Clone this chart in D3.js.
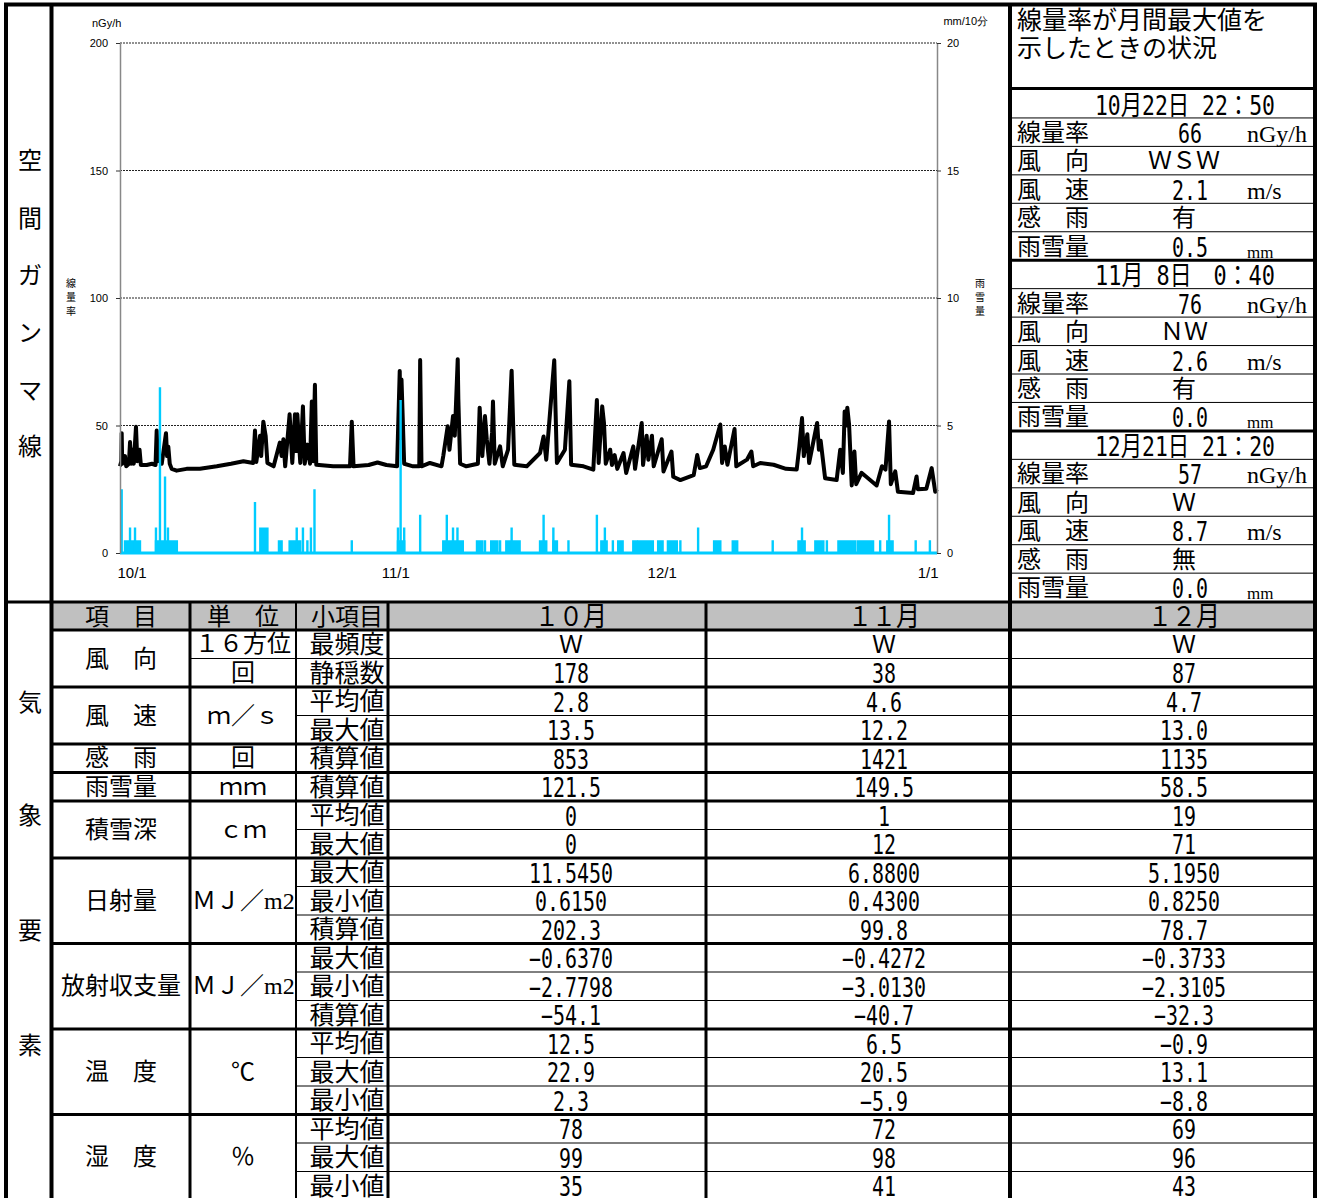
<!DOCTYPE html>
<html>
<head>
<meta charset="utf-8">
<script src="https://cdn.jsdelivr.net/npm/d3@7"></script>
<style>
body { margin: 0; background: #fff; }
</style>
</head>
<body>
<div id="chart"></div>
<script>
// dose rate nGy/h : [days since 10/1, value]
var doseRate = [
  [0,34],[0.15,36],[0.19,47],[0.25,35],[0.56,38],[0.7,34],[1.0,35],[1.13,43.5],[1.25,35],[1.4,40.5],[1.55,35],[1.8,49.5],[1.95,36],[2.2,40.5],[2.35,34.5],
  [3.0,34.5],[3.6,35],[4.0,34.5],[4.13,48],[4.25,36],[4.5,37],[4.7,35],[5.18,47],[5.3,38],[5.44,41.7],[5.6,35],[5.82,33],[6.38,32.3],[7.5,33],[9.0,33],[10.9,34],[12.5,35],[13.9,36],[15.0,35.3],
  [15.2,48],[15.35,35.7],[15.77,46],[15.9,38],[16.14,51.5],[16.4,46],[16.6,35.3],[17.3,34],[18.0,43.3],[18.2,38],[18.4,44.6],[18.6,34],
  [19.1,54.4],[19.4,35.3],[19.7,54.4],[19.85,40],[19.97,54.4],[20.3,35.3],[20.6,57.5],[20.8,35],[21.1,42.5],[21.4,35],[21.6,59.4],[21.75,36],[21.95,66],[22.1,34.6],
  [24,34],[25.9,34],[26.1,51.5],[26.3,34],[28,34.5],[29,35.5],[30,34.5],[31.2,34],
  [31.5,71.4],[31.6,45],[31.7,68],[32.0,35],[33,34],[33.7,34],[33.8,75.7],[33.95,34],[34.9,35.3],[36.2,34],[36.4,38],[36.9,49.7],[37.1,40.5],[37.5,53.7],[37.7,46],[38.03,76],[38.1,60.3],[38.3,35],[39,34],[40.3,35],
  [40.5,57],[40.8,38],[41.1,53.7],[41.3,44.6],[41.6,35],[41.9,47.3],[42.0,59.4],[42.2,35],[42.8,41.8],[43.1,34],[43.7,40.5],[44.1,71.5],[44.4,34.6],[45.8,34],[47.3,39.2],[47.7,45.7],[48.0,36.6],[48.9,75.6],[49.2,35.3],[50.1,40.5],[50.6,67.4],[50.8,34.6],[52.2,34],[53.3,32.7],
  [53.7,60],[53.9,35.3],[54.3,57.5],[54.5,51],[54.7,35],[55.2,40.5],[55.4,34.5],[55.7,38.4],[56.0,33],[56.7,39.2],[57.0,31.4],[57.8,41.8],[58.0,33],[58.75,51],[58.9,34.5],[59.3,46],[59.5,36.6],[59.9,46],[60.1,34],[61.0,44.6],[61.2,32],[62.1,39.8],[62.3,29.9],[63.1,28.6],[64.6,30.5],[65.0,38.4],[65.3,33.3],[66,34],
  [66.8,40.5],[67.6,50.4],[67.8,35.3],[68.1,41.8],[68.4,34.6],[69.2,48.6],[69.4,34],[70.6,36.6],[71.1,39.8],[71.3,34],[72.1,35.3],[73.6,34.6],[75,33],[76.2,32.7],[76.5,41.8],[76.8,52.9],[77.0,38],[77.4,46.6],[77.6,35.3],[78.5,51],[78.7,40.5],[78.9,44],[79.4,29.3],[80.7,28.6],[81.1,40.5],[81.4,31.4],[81.6,55.5],[81.75,50],[81.9,57],[82.1,50.4],[82.4,26.5],[82.7,39.8],[82.9,27],[83.5,31.4],[84,30],[85.2,26.5],[85.8,34],[86.2,32.7],[86.6,51.6],[86.8,27],[87.3,32],[87.6,24],[89.3,23.5],[89.7,30],[89.85,25],[90.8,25.2],[91.4,33.3],[91.8,24],[92,25]
];

// rain mm/10min : [start day, end day, mm]
var rainfall = [
  [0.19,0.19,2.5],[0.56,2.25,0.5],[1.13,1.13,1.0],[1.69,1.69,1.0],
  [4.05,6.4,0.5],[4.05,4.05,1.0],[4.5,4.5,6.5],[5.07,5.07,3.0],[5.4,5.4,1.0],
  [15.2,15.2,2.0],[15.8,16.6,1.0],
  [17.9,18.2,0.5],[19.1,20.3,0.5],[19.9,19.9,1.0],[20.6,20.6,1.0],[21.1,21.1,0.5],[21.5,21.5,1.0],[21.9,21.9,2.5],
  [26.1,26.1,0.5],
  [31.3,32.0,0.5],[31.3,31.3,1.0],[31.6,31.6,6.0],[32.0,32.0,1.0],
  [33.8,33.8,1.5],
  [36.4,38.6,0.5],[36.8,36.8,1.5],[37.5,37.5,1.0],[38.0,38.0,1.0],
  [40.2,40.8,0.5],[41.1,41.1,0.5],[41.8,42.5,0.5],[42.8,42.8,0.5],[43.5,45.0,0.5],[44.1,44.1,1.0],
  [47.3,48.0,0.5],[47.7,47.7,1.5],[48.8,49.2,0.5],[48.8,48.8,1.0],[50.5,50.5,0.5],
  [53.7,53.7,1.5],[54.2,54.8,0.5],[54.6,54.6,1.0],[55.5,55.5,0.5],[56.1,56.6,0.5],
  [57.8,58.2,0.5],[58.4,60.0,0.5],[60.6,61.1,0.5],[61.7,62.7,0.5],[63.1,63.1,0.5],
  [65.1,65.1,1.0],[66.9,67.6,0.5],[69.0,69.5,0.5],[73.5,73.5,0.5],
  [76.4,77.1,0.5],[76.8,76.8,1.0],[78.3,79.2,0.5],[79.6,79.6,0.5],
  [80.9,82.8,0.5],[83.1,84.8,0.5],[85.6,85.6,0.5],[86.4,87.0,0.5],[86.6,86.6,1.5],
  [89.6,89.6,0.5],[91.2,91.2,0.5]
];

var xTickValues = [0, 31, 61, 92];
var xTickLabels = ["10/1", "11/1", "12/1", "1/1"];
var doseTicks = [0, 50, 100, 150, 200];
var rainTicks = [0, 5, 10, 15, 20];

// right panel: monthly max situation
var peakTimes = ["10月22日 22：50", "11月 8日　0：40", "12月21日 21：20"];
var peakDose = ["66", "76", "57"];
var peakWindDir = ["ＷＳＷ", "ＮＷ", "Ｗ"];
var peakWindSpeed = ["2.1", "2.6", "8.7"];
var peakRainSense = ["有", "有", "無"];
var peakPrecip = ["0.5", "0.0", "0.0"];
var peakRowLabels = ["線量率", "風　向", "風　速", "感　雨", "雨雪量"];
var peakRowUnits = ["nGy/h", "", "m/s", "", "mm"];

// weather table
var headLabels = ["項　目", "単　位", "小項目"];
var monthLabels = ["１０月", "１１月", "１２月"];
var itemNames = ["風　向", "風　速", "感　雨", "雨雪量", "積雪深", "日射量", "放射収支量", "温　度", "湿　度"];
var itemSpans = [2, 2, 1, 1, 2, 3, 3, 3, 3];
var unitNames = ["１６方位", "回", "ｍ／ｓ", "回", "ｍｍ", "ｃｍ", "ＭＪ／m2", "ＭＪ／m2", "℃", "％"];
var unitSpans = [1, 1, 2, 1, 1, 2, 3, 3, 3, 3];
var subItems = ["最頻度","静穏数","平均値","最大値","積算値","積算値","平均値","最大値","最大値","最小値","積算値","最大値","最小値","積算値","平均値","最大値","最小値","平均値","最大値","最小値"];
var octValues = ["Ｗ","178","2.8","13.5","853","121.5","0","0","11.5450","0.6150","202.3","-0.6370","-2.7798","-54.1","12.5","22.9","2.3","78","99","35"];
var novValues = ["Ｗ","38","4.6","12.2","1421","149.5","1","12","6.8800","0.4300","99.8","-0.4272","-3.0130","-40.7","6.5","20.5","-5.9","72","98","41"];
var decValues = ["Ｗ","87","4.7","13.0","1135","58.5","19","71","5.1950","0.8250","78.7","-0.3733","-2.3105","-32.3","-0.9","13.1","-8.8","69","96","43"];

var jpFont = "'Noto Sans CJK JP', sans-serif";
var serifFont = "'Liberation Serif', 'Noto Sans CJK JP', serif";
var numFont = "'DejaVu Sans Mono', 'Noto Sans CJK JP', monospace";
var chartFont = "'Liberation Sans', Arial, sans-serif";
var rainColor = "#00ccff";

function init ()
{
    var w = 1326;
    var h = 1198;

    var svg = d3.select("#chart")
        .append("svg")
        .attr("width", w)
        .attr("height", h)
        .style("font-family", jpFont);

    function hline(x1, x2, y, sw) {
        svg.append("line").attr("x1", x1).attr("x2", x2).attr("y1", y).attr("y2", y)
            .attr("stroke", "#000").attr("stroke-width", sw);
    }
    function vline(x, y1, y2, sw) {
        svg.append("line").attr("x1", x).attr("x2", x).attr("y1", y1).attr("y2", y2)
            .attr("stroke", "#000").attr("stroke-width", sw);
    }
    function label(x, y, str, size, anchor, family) {
        return svg.append("text").attr("x", x).attr("y", y)
            .attr("text-anchor", anchor || "middle")
            .style("font-family", family || jpFont)
            .style("font-size", size + "px")
            .text(str);
    }
    // narrow gothic style numbers: half width 12px, full width 24px
    function narrow(x, y, str, anchor) {
        var n = 0;
        for (var i = 0; i < str.length; i++) n += str.charCodeAt(i) > 0x2e80 ? 2 : 1;
        return svg.append("text").attr("x", x).attr("y", y)
            .attr("text-anchor", anchor || "middle")
            .attr("textLength", n * 12).attr("lengthAdjust", "spacingAndGlyphs")
            .style("font-family", numFont).style("font-size", "27px")
            .text(str.replace(/-/g, "\u2212"));
    }

    //----- chart -----
    var xScale = d3.scaleLinear().domain([0, 92]).range([120, 937]);
    var yScale = d3.scaleLinear().domain([0, 200]).range([553, 43]);
    var rainScale = d3.scaleLinear().domain([0, 20]).range([553, 43]);

    //dotted grid
    svg.append("g").selectAll("line")
        .data(doseTicks.slice(1))
        .enter()
        .append("line")
        .attr("x1", xScale(0)).attr("x2", xScale(92))
        .attr("y1", function(d) { return yScale(d); })
        .attr("y2", function(d) { return yScale(d); })
        .attr("stroke", "#222")
        .attr("stroke-dasharray", "2,1");

    //dose rate line
    var line = d3.line()
        .x(function(d) { return xScale(d[0]); })
        .y(function(d) { return yScale(d[1]); });

    svg.append("path")
        .datum(doseRate)
        .attr("d", line)
        .attr("fill", "none")
        .attr("stroke", "#000")
        .attr("stroke-width", 4)
        .attr("stroke-linejoin", "round");

    //rain
    svg.append("line")
        .attr("x1", xScale(0)).attr("x2", xScale(92))
        .attr("y1", rainScale(0)).attr("y2", rainScale(0))
        .attr("stroke", rainColor).attr("stroke-width", 3);

    svg.append("g").selectAll("rect")
        .data(rainfall)
        .enter()
        .append("rect")
        .attr("x", function(d) { return xScale(d[0]) - 1.2; })
        .attr("width", function(d) { return xScale(d[1]) - xScale(d[0]) + 2.4; })
        .attr("y", function(d) { return rainScale(d[2]); })
        .attr("height", function(d) { return rainScale(0) - rainScale(d[2]); })
        .attr("fill", rainColor);

    //axes
    var leftAxis = d3.axisLeft(yScale).tickValues(doseTicks).tickSize(4).tickSizeOuter(0).tickPadding(8);
    var gl = svg.append("g").attr("transform", "translate(" + xScale(0) + ",0)").call(leftAxis);

    var rightAxis = d3.axisRight(rainScale).tickValues(rainTicks).tickSize(4).tickSizeOuter(0).tickPadding(6);
    var gr = svg.append("g").attr("transform", "translate(" + xScale(92) + ",0)").call(rightAxis);

    [gl, gr].forEach(function(g) {
        g.select(".domain").attr("stroke", "#888").attr("stroke-width", 1.5);
        g.selectAll(".tick line").attr("stroke", "#333");
        g.selectAll("text").style("font-family", chartFont).style("font-size", "11px").attr("fill", "#000");
    });

    var xAxis = d3.axisBottom(xScale).tickValues(xTickValues)
        .tickFormat(function(d, i) { return xTickLabels[i]; })
        .tickSize(0).tickPadding(14);
    var gx = svg.append("g").attr("transform", "translate(0," + yScale(0) + ")").call(xAxis);
    gx.select(".domain").remove();
    gx.selectAll("text").style("font-family", chartFont).style("font-size", "15px").attr("fill", "#000");
    gx.selectAll("text").filter(function(d, i) { return i === 0; }).attr("text-anchor", "start").attr("dx", -3);
    gx.selectAll("text").filter(function(d, i) { return i === xTickValues.length - 1; }).attr("text-anchor", "end").attr("dx", 1);

    //axis titles
    label(92, 27, "nGy/h", 11, "start", chartFont);
    label(988, 25, "mm/10分", 11, "end", chartFont);
    "線量率".split("").forEach(function(c, i) { label(71, 287 + i * 14, c, 10); });
    "雨雪量".split("").forEach(function(c, i) { label(980, 287 + i * 14, c, 10); });

    //----- left column -----
    var leftTop = [169, 227, 284, 341, 399, 455];
    "空間ガンマ線".split("").forEach(function(c, i) { label(30, leftTop[i], c, 24); });
    var leftBottom = [711, 824, 939, 1054];
    "気象要素".split("").forEach(function(c, i) { label(30, leftBottom[i], c, 24); });

    //----- right panel -----
    label(1017, 29, "線量率が月間最大値を", 25, "start");
    label(1017, 57, "示したときの状況", 25, "start");

    var pTop = 89.5;
    var pH = 28.45;
    for (var b = 0; b < 3; b++) {
        var t0 = pTop + b * 6 * pH;
        narrow(1185, t0 + 25, peakTimes[b]);
        var vals = [peakDose[b], peakWindDir[b], peakWindSpeed[b], peakRainSense[b], peakPrecip[b]];
        for (var r = 0; r < 5; r++) {
            var rt = t0 + (r + 1) * pH;
            label(1017, rt + 23, peakRowLabels[r], 24, "start");
            if (r === 1 || r === 3) {
                label(1184, rt + 23, vals[r], 24);
            } else {
                narrow(1190, rt + 25, vals[r]);
            }
            if (peakRowUnits[r] === "mm") {
                label(1247, rt + 26, "mm", 17, "start", serifFont);
            } else if (peakRowUnits[r]) {
                label(1247, rt + 24, peakRowUnits[r], 24, "start", serifFont);
            }
        }
    }
    for (var k = 1; k < 18; k++) {
        hline(1011, 1316, pTop + k * pH, k % 6 === 0 ? 3 : 1);
    }
    hline(1011, 1316, 88.5, 3);

    //----- weather table -----
    var tTop = 630;
    var rH = 28.5;
    var valCenters = [571, 884, 1184];
    var monthValues = [octValues, novValues, decValues];

    svg.append("rect").attr("x", 52).attr("y", 602).attr("width", 1264).attr("height", 28)
        .attr("fill", "#c0c0c0");
    label(121, 625, headLabels[0], 24);
    label(243, 625, headLabels[1], 24);
    label(347, 625, headLabels[2], 24);
    monthLabels.forEach(function(m, i) { narrow(valCenters[i], 626, m); });

    var groupEnds = [];
    var acc = 0;
    itemNames.forEach(function(name, i) {
        var top = tTop + acc * rH;
        var mid = top + itemSpans[i] * rH / 2;
        label(121, mid + 8, name, 24);
        acc += itemSpans[i];
        groupEnds.push(acc);
    });

    var unitEnds = [];
    acc = 0;
    unitNames.forEach(function(name, i) {
        var top = tTop + acc * rH;
        var mid = top + unitSpans[i] * rH / 2;
        if (name.indexOf("m2") >= 0) {
            label(192, mid + 8, name, 24, "start", serifFont);
        } else {
            label(243, mid + 8, name, 24, "middle", serifFont);
        }
        acc += unitSpans[i];
        unitEnds.push(acc);
    });

    subItems.forEach(function(s, i) {
        var top = tTop + i * rH;
        label(347, top + 23, s, 25);
        monthValues.forEach(function(vals, m) {
            if (vals[i] === "Ｗ") label(valCenters[m], top + 23, vals[i], 24);
            else narrow(valCenters[m], top + 24.5, vals[i]);
        });
    });

    for (var j = 1; j < subItems.length; j++) {
        var yy = tTop + j * rH;
        if (groupEnds.indexOf(j) >= 0) hline(52, 1316, yy, 3);
        else if (unitEnds.indexOf(j) >= 0) hline(190, 1316, yy, 1);
        else hline(296, 1316, yy, 1);
    }
    hline(52, 1316, tTop, 3);

    //----- frame -----
    hline(4, 1317, 4.5, 4);
    hline(4, 1317, 602, 3);
    vline(6, 3, h, 4);
    vline(51.5, 3, h, 4);
    vline(1010, 3, h, 4);
    vline(1315, 3, h, 4);
    vline(190, 602, h, 3);
    vline(296, 602, h, 2);
    vline(388, 602, h, 3);
    vline(706, 602, h, 3);
}

window.onload = init;
</script>
</body>
</html>
